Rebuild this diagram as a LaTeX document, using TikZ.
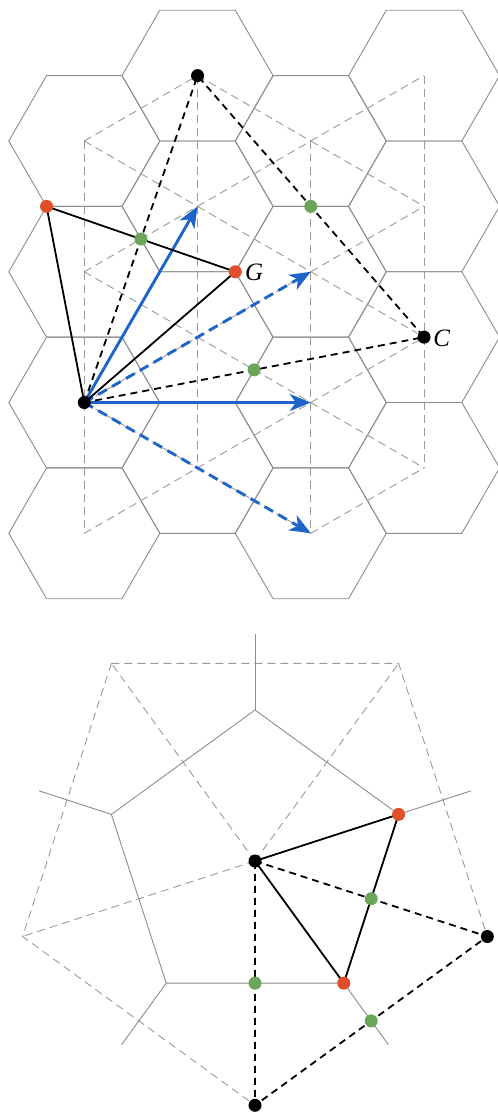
\documentclass[tikz,border=0pt]{standalone}
\usepackage{fontspec}
\newfontfamily\labelfont{Liberation Serif}
\usetikzlibrary{calc,arrows.meta}
\definecolor{hexgray}{HTML}{8C8C8C}
\definecolor{latgray}{HTML}{9A9A9A}
\definecolor{ptred}{HTML}{E04E2A}
\definecolor{ptgreen}{HTML}{6BA55A}
\definecolor{arrblue}{HTML}{1F64C8}
\begin{document}
\begin{tikzpicture}[x=1pt,y=-1pt,
  cell/.style={draw=hexgray,line width=0.9pt},
  lattice/.style={draw=latgray,line width=0.9pt,dash pattern=on 8pt off 5pt},
  solidedge/.style={draw=black,line width=1.8pt},
  dashedge/.style={draw=black,line width=1.8pt,dash pattern=on 7pt off 5pt},
  vec/.style={draw=arrblue,line width=2.9pt,-{Stealth[length=21pt,width=17pt,inset=6pt]}},
  vecdash/.style={vec,dash pattern=on 10pt off 6pt},
  dot/.style={circle,inner sep=0pt,minimum size=13pt},
  blackdot/.style={dot,fill=black},
  reddot/.style={dot,fill=ptred},
  greendot/.style={dot,fill=ptgreen},
  ptlabel/.style={inner sep=0pt}]
\useasboundingbox (0,0) rectangle (498,1114);

% ---------- hexagonal cells and their triangular lattice ----------
\foreach \i in {0,...,3}{
  \pgfmathsetmacro\yoff{mod(\i,2)==0 ? 141 : 75.6}
  \foreach \j in {0,...,3}{
    \coordinate (p\i\j) at ({84.3+113.25*\i},{\yoff+130.77*\j});
  }
}
\foreach \i in {0,...,3}{
  \foreach \j in {0,...,3}{
    \draw[cell] ($(p\i\j)+(0:75.5)$) -- ($(p\i\j)+(60:75.5)$) -- ($(p\i\j)+(120:75.5)$)
      -- ($(p\i\j)+(180:75.5)$) -- ($(p\i\j)+(240:75.5)$) -- ($(p\i\j)+(300:75.5)$) -- cycle;
  }
}
% vertical lattice edges
\foreach \i in {0,...,3}{
  \foreach \j/\k in {0/1,1/2,2/3} \draw[lattice] (p\i\j) -- (p\i\k);
}
% slanted lattice edges
\foreach \i/\ii in {0/1,2/3}{
  \foreach \j in {0,...,3} \draw[lattice] (p\i\j) -- (p\ii\j);
  \foreach \j/\k in {0/1,1/2,2/3} \draw[lattice] (p\i\j) -- (p\ii\k);
}
\foreach \j in {0,...,3} \draw[lattice] (p1\j) -- (p2\j);
\foreach \j/\k in {1/0,2/1,3/2} \draw[lattice] (p1\j) -- (p2\k);

% ---------- points of the hexagonal picture ----------
\coordinate (O) at (p02);
\coordinate (T) at (p10);
\coordinate (C) at (p32);
\coordinate (R1) at ($(p00)+(120:75.5)$);
\coordinate (G) at ($(p21)+(180:75.5)$);
\coordinate (M1) at ($(O)!0.5!(T)$);
\coordinate (M2) at ($(T)!0.5!(C)$);
\coordinate (M3) at ($(O)!0.5!(C)$);

% lattice vectors
\draw[vec] (O) -- (p11);
\draw[vec] (O) -- (p22);
\draw[vecdash] (O) -- (p21);
\draw[vecdash] (O) -- (p23);

% triangles
\draw[dashedge] (O) -- (T) -- (C) -- cycle;
\draw[solidedge] (O) -- (R1) -- (G) -- cycle;

\node[blackdot] (dO) at (O) {};
\node[blackdot] (dT) at (T) {};
\node[blackdot] (dC) at (C) {};
\node[reddot] (dR1) at (R1) {};
\node[reddot] (dG) at (G) {};
\node[greendot] (dM1) at (M1) {};
\node[greendot] (dM2) at (M2) {};
\node[greendot] (dM3) at (M3) {};
\node[ptlabel,anchor=west] (labG) at ($(G)+(9.5,1)$) {\fontsize{25pt}{30pt}\selectfont\labelfont\itshape G};
\node[ptlabel,anchor=west] (labC) at ($(C)+(9,1.5)$) {\fontsize{25pt}{30pt}\selectfont\labelfont\itshape C};

% ---------- pentagonal cell ----------
\coordinate (P) at (255,861);
\foreach \a [count=\n] in {-90,-18,54,126,198}{
  \coordinate (v\n) at ($(P)+(\a:151)$);
  \coordinate (r\n) at ($(P)+(\a:227)$);
}
\foreach \a [count=\n] in {-54,18,90,162,234}{
  \coordinate (n\n) at ($(P)+(\a:244.3)$);
}
\draw[cell] (v1) -- (v2) -- (v3) -- (v4) -- (v5) -- cycle;
\foreach \n in {1,...,5} \draw[cell] (v\n) -- (r\n);

\draw[lattice] (n5) -- (n1) -- (n2);
\draw[lattice] (n5) -- (n4) -- (n3);
\draw[lattice] (P) -- (n1);
\draw[lattice] (P) -- (n5);
\draw[lattice] (P) -- (n4);

\draw[dashedge] (P) -- (n2) -- (n3) -- cycle;
\draw[solidedge] (P) -- (v2) -- (v3) -- cycle;

\coordinate (Q1) at ($(P)!0.5!(n3)$);
\coordinate (Q2) at ($(P)!0.5!(n2)$);
\coordinate (Q3) at ($(n3)!0.5!(n2)$);

\node[blackdot] (dP) at (P) {};
\node[blackdot] (dN2) at (n2) {};
\node[blackdot] (dN3) at (n3) {};
\node[reddot] (dV2) at (v2) {};
\node[reddot] (dV3) at (v3) {};
\node[greendot] (dQ1) at (Q1) {};
\node[greendot] (dQ2) at (Q2) {};
\node[greendot] (dQ3) at (Q3) {};
\end{tikzpicture}
\end{document}
